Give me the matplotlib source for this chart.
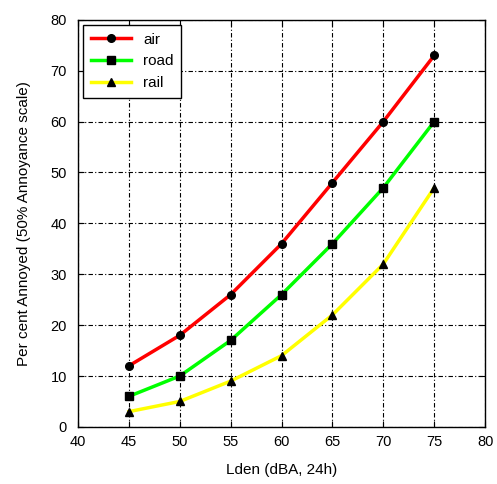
import matplotlib
matplotlib.use("Agg")
import matplotlib.pyplot as plt

plt.rcParams['font.family'] = ['Liberation Sans', 'DejaVu Sans']

lden = [45, 50, 55, 60, 65, 70, 75]
air = [12, 18, 26, 36, 48, 60, 73]
road = [6, 10, 17, 26, 36, 47, 60]
rail = [3, 5, 9, 14, 22, 32, 47]

fig = plt.figure(figsize=(4.97, 4.84), dpi=100)
ax = fig.add_axes([0.157, 0.118, 0.819, 0.841])

ax.plot(lden, air, color='#ff0000', lw=2.5, marker='o', ms=5.5, mfc='black', mec='black', label='air')
ax.plot(lden, road, color='#00ff00', lw=2.5, marker='s', ms=5.5, mfc='black', mec='black', label='road')
ax.plot(lden, rail, color='#ffff00', lw=2.5, marker='^', ms=5.5, mfc='black', mec='black', label='rail')

ax.set_xlim(40, 80)
ax.set_ylim(0, 80)
ax.set_xticks(range(40, 81, 5))
ax.set_yticks(range(0, 81, 10))
ax.grid(True, color='black', linestyle=(0, (4, 2, 1, 2)), linewidth=0.8)
ax.tick_params(direction='in', length=4, labelsize=10.5, top=True, right=True)
ax.tick_params(axis='x', pad=6)
ax.tick_params(axis='y', pad=8)
for s in ax.spines.values():
    s.set_linewidth(1.0)

ax.set_xlabel('Lden (dBA, 24h)', fontsize=11, labelpad=10)
ax.set_ylabel('Per cent Annoyed (50% Annoyance scale)', fontsize=11, labelpad=14)

leg = ax.legend(loc='upper left', fontsize=11, fancybox=False, framealpha=1,
                edgecolor='black', handlelength=2.6, borderaxespad=0.35,
                labelspacing=0.5, borderpad=0.5)
leg.get_frame().set_linewidth(1.0)

fig.savefig('out.png', dpi=100)
